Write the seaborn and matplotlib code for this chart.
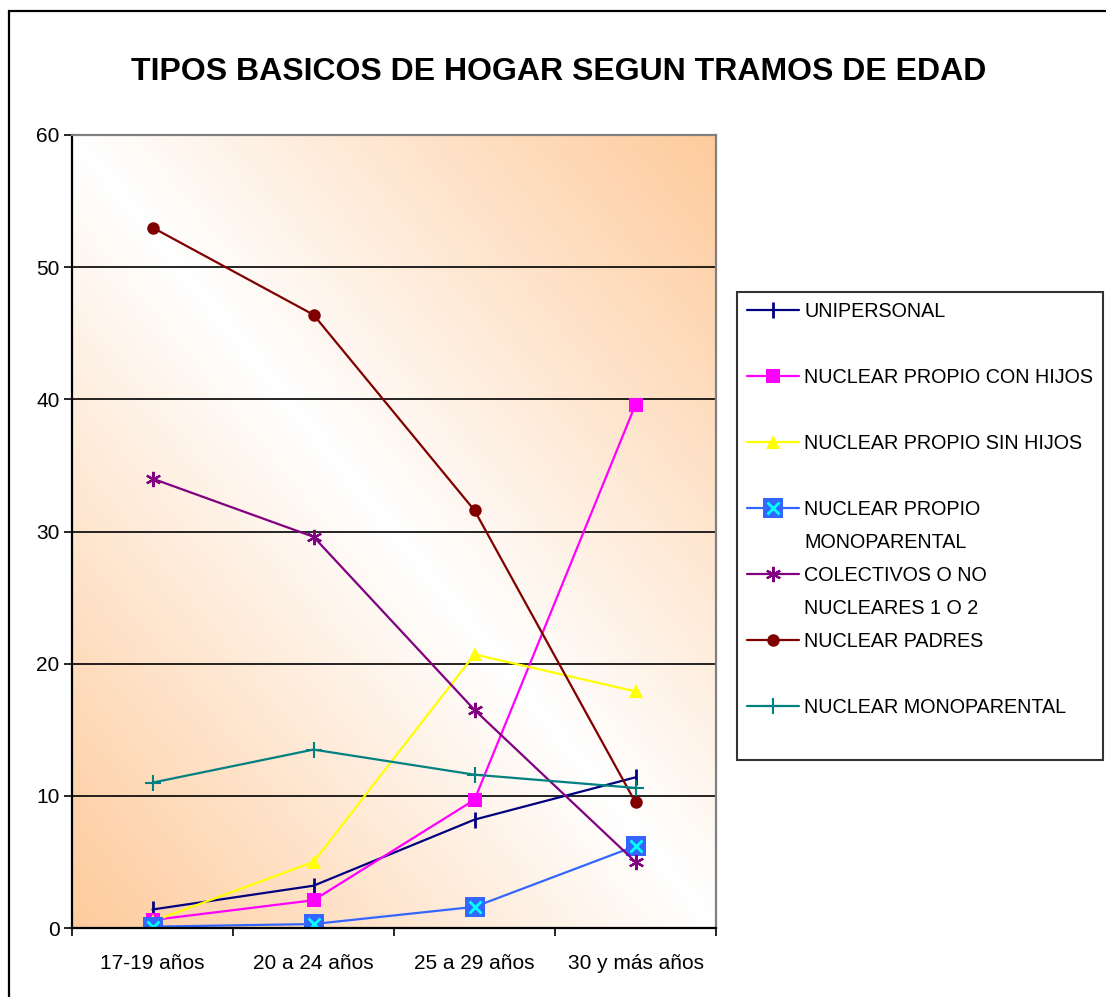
import matplotlib
matplotlib.use('Agg')
import matplotlib.pyplot as plt
import numpy as np
import pandas as pd
import seaborn as sns
from matplotlib.lines import Line2D
from matplotlib.patches import Rectangle
from matplotlib.colors import LinearSegmentedColormap

# datos
edades = ['17-19 años', '20 a 24 años', '25 a 29 años', '30 y más años']
unipersonal = [1.4, 3.2, 8.2, 11.4]
con_hijos = [0.6, 2.1, 9.7, 39.6]
sin_hijos = [0.5, 5.0, 20.7, 17.9]
propio_monoparental = [0.1, 0.3, 1.6, 6.2]
colectivos = [34.0, 29.6, 16.5, 5.0]
padres = [53.0, 46.4, 31.6, 9.5]
monoparental = [11.0, 13.5, 11.6, 10.6]

sns.set_style('white')
plt.rcParams['font.family'] = ['Liberation Sans', 'DejaVu Sans']
plt.rcParams['text.color'] = 'black'
plt.rcParams['xtick.color'] = 'black'
plt.rcParams['ytick.color'] = 'black'

fig = plt.figure(figsize=(11.06, 9.97), dpi=100)
ax = fig.add_axes([72/1106, 1-928/997, 644/1106, 793/997])

# fondo degradado tipo Excel (naranja - blanco - naranja en diagonal)
u, v = np.meshgrid(np.linspace(0, 1, 300), np.linspace(0, 1, 300))
grad = np.abs(u + v - 1)
cmap_fondo = LinearSegmentedColormap.from_list('fondo', ['#ffffff', '#fecb9c'])
ax.imshow(grad, extent=[-0.5, 3.5, 0, 60], origin='lower', aspect='auto',
          cmap=cmap_fondo, zorder=0, interpolation='bilinear')

lw = 1.6
sns.lineplot(x=edades, y=unipersonal, color='#000080', marker='|', markersize=12,
             markeredgewidth=2, markeredgecolor='#000080', lw=lw, ax=ax, zorder=3)
sns.lineplot(x=edades, y=con_hijos, color='#ff00ff', marker='s', markersize=9.5,
             markeredgewidth=0, lw=lw, ax=ax, zorder=3)
sns.lineplot(x=edades, y=sin_hijos, color='#ffff00', marker='^', markersize=10,
             markeredgewidth=0, lw=lw, ax=ax, zorder=3)
sns.lineplot(x=edades, y=propio_monoparental, color='#3366ff', marker='s', markersize=14.5,
             markeredgewidth=0, lw=lw, ax=ax, zorder=3)
sns.scatterplot(x=edades, y=propio_monoparental, color='#00ffff', marker='x', s=75,
                linewidth=2, ax=ax, zorder=3)
sns.lineplot(x=edades, y=colectivos, color='#800080', marker=(6, 2, 0), markersize=11,
             markeredgewidth=1.6, markeredgecolor='#800080', lw=lw, ax=ax, zorder=3)
sns.lineplot(x=edades, y=padres, color='#800000', marker='o', markersize=9,
             markeredgewidth=0, lw=lw, ax=ax, zorder=3)
sns.lineplot(x=edades, y=monoparental, color='#008080', marker='+', markersize=11,
             markeredgewidth=1.5, markeredgecolor='#008080', lw=lw, ax=ax, zorder=3)

ax.set_xlim(-0.5, 3.5)
ax.set_ylim(0, 60)
ax.set_yticks(range(0, 61, 10))
ax.set_xticks(range(4))
ax.set_xticklabels(edades)
ax.set_xticks(np.arange(-0.5, 3.6, 1), minor=True)
ax.yaxis.grid(True, color='black', lw=1.2, zorder=1)
ax.set_axisbelow(False)
ax.set_xlabel('')
ax.set_ylabel('')
ax.tick_params(axis='y', which='major', direction='out', length=6, width=1.2,
               color='black', labelsize=15, pad=3, left=True)
ax.tick_params(axis='x', which='major', length=0, labelsize=15, pad=19)
ax.tick_params(axis='x', which='minor', direction='out', length=6, width=1.2,
               color='black', bottom=True)
for s in ['left', 'bottom']:
    ax.spines[s].set_color('black')
    ax.spines[s].set_linewidth(1.6)
for s in ['top', 'right']:
    ax.spines[s].set_color('#808080')
    ax.spines[s].set_linewidth(1.6)
for s in ax.spines.values():
    s.set_zorder(4)

# leyenda con lineas en blanco como en Excel
def h(color, marker, ms, mew=0):
    return Line2D([], [], color=color, marker=marker, markersize=ms,
                  markeredgewidth=mew, markeredgecolor=color, lw=lw)

vacio = Line2D([], [], color='none')
handles = [
    h('#000080', '|', 11, 2), vacio,
    h('#ff00ff', 's', 9.5), vacio,
    h('#ffff00', '^', 10), vacio,
    (h('#3366ff', 's', 14.5), Line2D([], [], color='#00ffff', marker='x', markersize=8.5,
                                     markeredgewidth=2, lw=0)), vacio,
    h('#800080', (6, 2, 0), 11, 1.6), vacio,
    h('#800000', 'o', 9), vacio,
    h('#008080', '+', 11, 1.5), vacio,
]
labels = ['UNIPERSONAL', ' ',
          'NUCLEAR PROPIO CON HIJOS', ' ',
          'NUCLEAR PROPIO SIN HIJOS', ' ',
          'NUCLEAR PROPIO', 'MONOPARENTAL',
          'COLECTIVOS O NO', 'NUCLEARES 1 O 2',
          'NUCLEAR PADRES', ' ',
          'NUCLEAR MONOPARENTAL', ' ']
leg = fig.legend(handles, labels, loc='upper left',
                 bbox_to_anchor=(737/1106, 1-292/997), bbox_transform=fig.transFigure,
                 fontsize=14.2, frameon=True, fancybox=False, shadow=False,
                 handlelength=2.65, handletextpad=0.25, labelspacing=0.71,
                 borderpad=0.5, borderaxespad=0)
leg.get_frame().set_edgecolor('black')
leg.get_frame().set_linewidth(1.5)

fig.text(559/1106, 1-72/997, 'TIPOS BASICOS DE HOGAR SEGUN TRAMOS DE EDAD',
         ha='center', va='center', fontsize=23, fontweight='bold')

# marco exterior
fig.patches.append(Rectangle((9/1106, -0.1), 1.2, 1.1 - 11/997, transform=fig.transFigure,
                             fill=False, edgecolor='black', lw=1.6))

fig.savefig('out.png', dpi=100)
